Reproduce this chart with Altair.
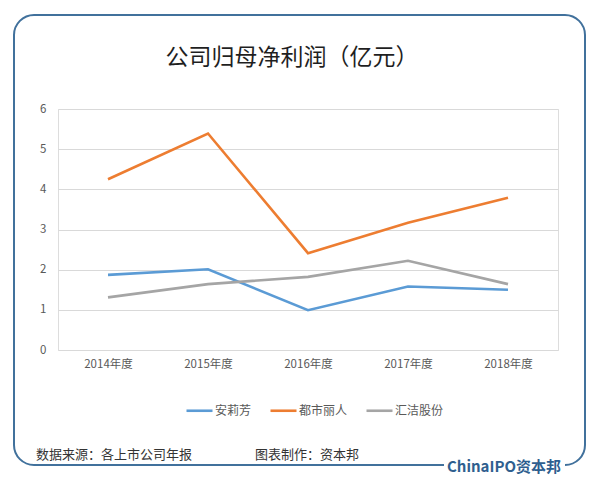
import altair as alt
import pandas as pd

years = ["2014年度", "2015年度", "2016年度", "2017年度", "2018年度"]
series_names = ["安莉芳", "都市丽人", "汇洁股份"]
anlifang = [1.87, 2.01, 0.99, 1.58, 1.50]
dushi = [4.25, 5.39, 2.41, 3.17, 3.79]
huijie = [1.31, 1.64, 1.82, 2.22, 1.64]
colors = ["#5B9BD5", "#ED7D31", "#A5A5A5"]
y_ticks = [0, 1, 2, 3, 4, 5, 6]

title_text = "公司归母净利润（亿元）"
source_text = "数据来源：各上市公司年报"
maker_text = "图表制作：资本邦"
logo_text = "ChinaIPO资本邦"

FONT = "Noto Sans CJK SC"

rows = []
for name, vals in zip(series_names, [anlifang, dushi, huijie]):
    for yr, v in zip(years, vals):
        rows.append({"year": yr, "series": name, "value": v})
df = pd.DataFrame(rows)

W, H = 500, 241

lines = alt.Chart(df).mark_line(strokeWidth=2.6).encode(
    x=alt.X("year:N", sort=years, title=None,
            scale=alt.Scale(type="point", padding=0.5),
            axis=alt.Axis(labelAngle=0, labelFont=FONT, labelFontSize=11.5,
                          labelColor="#595959", domain=False, ticks=False,
                          labelPadding=8, grid=False)),
    y=alt.Y("value:Q", title=None,
            scale=alt.Scale(domain=[0, 6], nice=False),
            axis=alt.Axis(values=y_ticks, labelFont=FONT, labelFontSize=11.5,
                          labelColor="#595959", domain=False, ticks=False,
                          labelPadding=12, grid=True, gridColor="#D9D9D9",
                          gridWidth=1)),
    color=alt.Color("series:N",
                    scale=alt.Scale(domain=series_names, range=colors),
                    legend=alt.Legend(title=None, orient="none",
                                      legendX=127, legendY=287,
                                      direction="horizontal",
                                      symbolType="stroke",
                                      symbolStrokeWidth=2.6,
                                      symbolSize=676,
                                      labelFont=FONT, labelFontSize=12,
                                      labelColor="#595959",
                                      labelOffset=1,
                                      columnPadding=13)),
)

deco = pd.DataFrame({"k": [0]})
base = alt.Chart(deco)

border = base.mark_rect(fill=None, stroke="#41719C", strokeWidth=2,
                        cornerRadius=20).encode(
    x=alt.value(-44), x2=alt.value(527), y=alt.value(-94), y2=alt.value(356))

logo_bg = base.mark_rect(fill="white").encode(
    x=alt.value(386), x2=alt.value(507), y=alt.value(350), y2=alt.value(366))

logo = base.mark_text(text=logo_text, font=FONT, fontSize=15, fontWeight="bold",
                      color="#2F5F8F", align="left", baseline="middle").encode(
    x=alt.value(389), y=alt.value(358))

title = base.mark_text(text=title_text, font=FONT, fontSize=23,
                       color="#1F1F1F", align="center", baseline="middle").encode(
    x=alt.value(234), y=alt.value(-51))

source = base.mark_text(text=source_text, font=FONT, fontSize=13,
                        color="#333333", align="left", baseline="middle").encode(
    x=alt.value(-22), y=alt.value(346))

maker = base.mark_text(text=maker_text, font=FONT, fontSize=13,
                       color="#333333", align="left", baseline="middle").encode(
    x=alt.value(197), y=alt.value(346))

chart = alt.layer(lines, border, logo_bg, logo, title, source, maker).properties(
    width=W, height=H,
    autosize=alt.AutoSizeParams(type="none"),
    padding={"left": 50, "top": 101, "right": 34, "bottom": 130},
).configure_view(stroke=None).configure(background="white")

chart.save("out.html", embed_options={"renderer": "svg", "actions": False})
